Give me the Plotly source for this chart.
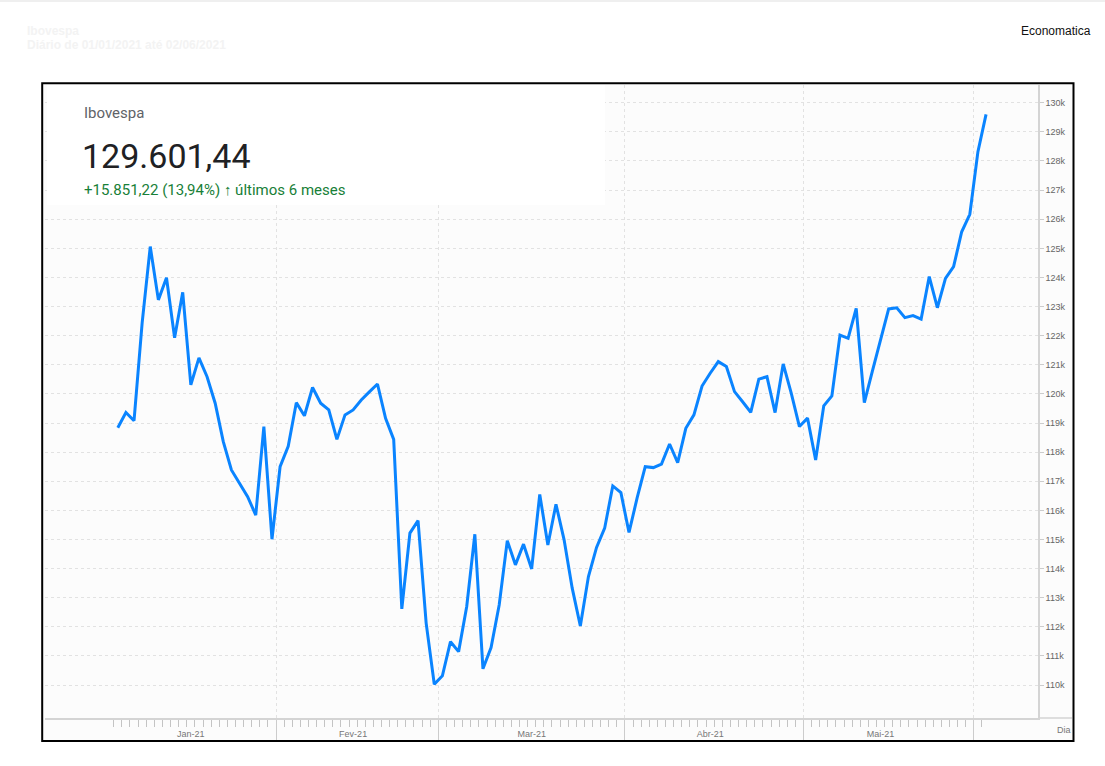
import pandas as pd
import plotly.graph_objects as go

# ---------------- data ----------------
start_date = "2021-01-04"
end_date = "2021-06-02"

ibovespa = [
    118840, 119360, 119080, 122440, 125060, 123230, 123990, 121930, 123490, 120310,
    121240, 120590, 119680, 118360, 117390, 116940, 116470, 115840, 118880, 115010,
    117500, 118200, 119700, 119250, 120220, 119680, 119450, 118440, 119280, 119450,
    119790, 120070, 120340, 119160, 118440, 112620, 115220, 115650, 112130, 110030,
    110320, 111490, 111150, 112700, 115180, 110560, 111290, 112750, 114960, 114130,
    114840, 113990, 116550, 114810, 116210, 114990, 113330, 112030, 113730, 114730,
    115390, 116840, 116610, 115240, 116430, 117500, 117470, 117590, 118280, 117640,
    118820, 119280, 120270, 120710, 121110, 120940, 120080, 119730, 119370, 120510,
    120590, 119360, 121030, 120020, 118880, 119170, 117730, 119590, 119930, 122020,
    121910, 122940, 119700, 120790, 121850, 122920, 122960, 122620, 122690, 122570,
    124030, 122960, 123970, 124370, 125570, 126170, 128320, 129601.44,
]

month_label_dates = ["2021-01-15", "2021-02-12", "2021-03-16", "2021-04-15", "2021-05-14"]
month_labels = ["Jan-21", "Fev-21", "Mar-21", "Abr-21", "Mai-21"]

y_tick_values = [110000, 111000, 112000, 113000, 114000, 115000, 116000, 117000,
                 118000, 119000, 120000, 121000, 122000, 123000, 124000, 125000,
                 126000, 127000, 128000, 129000, 130000]

title_name = "Ibovespa"
last_value_text = "129.601,44"
change_text = "+15.851,22 (13,94%) <b>↑</b> últimos 6 meses"
ghost_title = "Ibovespa"
ghost_subtitle = "Diário de 01/01/2021 até 02/06/2021"
source_text = "Economatica"
x_axis_unit = "Dia"

# ---------------- derived positions ----------------
dates = pd.bdate_range(start_date, end_date)
fmt = "%Y-%m-%d %H:%M"
date_str = [d.strftime("%Y-%m-%d") for d in dates]
half = pd.Timedelta(hours=12)
bday = pd.offsets.BDay(1)
day_bounds = [((d - bday) + half).strftime(fmt) for d in dates]
month_bounds = [
    (dates[i - 1] + half).strftime(fmt)
    for i in range(1, len(dates))
    if dates[i].month != dates[i - 1].month
]

W, H = 1105, 766
ML, MR, MT, MB = 45, 67, 85, 48
PW, PH = W - ML - MR, H - MT - MB


def px(x):
    return (x - ML) / PW


def py(y):
    return (H - MB - y) / PH


x_range = ["2020-12-22 00:40", "2021-06-10 09:40"]
y_range = [108870, 130610]
breaks = [dict(bounds=["sat", "mon"])]

fig = go.Figure()
fig.add_trace(go.Scatter(
    x=date_str, y=ibovespa, mode="lines",
    line=dict(color="#0a84ff", width=3),
    showlegend=False,
))
fig.add_trace(go.Scatter(
    x=date_str, y=ibovespa, mode="lines", xaxis="x2",
    line=dict(color="rgba(0,0,0,0)", width=0),
    hoverinfo="skip", showlegend=False,
))

grid_col = "#e2e2e2"
axis_col = "#d4d4d4"

fig.update_layout(
    width=W, height=H,
    margin=dict(l=ML, r=MR, t=MT, b=MB),
    paper_bgcolor="white",
    plot_bgcolor="#fcfcfc",
    font=dict(family="Arial, Liberation Sans, sans-serif", size=9, color="#666"),
    xaxis=dict(
        type="date", range=x_range, rangebreaks=breaks,
        tickmode="array", tickvals=month_bounds, showticklabels=False,
        ticks="outside", ticklen=20, tickcolor="#cccccc", tickwidth=1,
        showgrid=True, gridcolor=grid_col, griddash="3px,3px", gridwidth=1,
        showline=True, linecolor=axis_col, linewidth=1.5,
        zeroline=False,
        minor=dict(tickmode="array", tickvals=day_bounds, ticks="outside",
                   ticklen=7, tickcolor="#c4c4c4", tickwidth=1, showgrid=False),
    ),
    xaxis2=dict(
        type="date", range=x_range, rangebreaks=breaks,
        overlaying="x", anchor="y", side="bottom",
        tickmode="array", tickvals=month_label_dates, ticktext=month_labels,
        ticks="outside", ticklen=7, tickcolor="rgba(0,0,0,0)",
        showgrid=False, showline=False, zeroline=False,
        tickfont=dict(size=9, color="#777"),
    ),
    yaxis=dict(
        side="right", range=y_range,
        tickmode="array", tickvals=y_tick_values,
        tickformat="~s",
        ticks="outside", ticklen=4, tickcolor="#cccccc",
        showline=True, linecolor=axis_col, linewidth=1.5,
        showgrid=True, gridcolor=grid_col, griddash="3px,3px", gridwidth=1,
        zeroline=False,
        tickfont=dict(size=9, color="#666"),
    ),
    hovermode="x",
)

shapes = [
    # outer black frame
    dict(type="rect", xref="paper", yref="paper",
         x0=px(42.2), x1=px(1073.5), y0=py(741), y1=py(83.3),
         line=dict(color="black", width=2), fillcolor="#fcfcfc", layer="below"),
    # x axis line extension under the y labels
    dict(type="line", xref="paper", yref="paper",
         x0=1, x1=px(1072), y0=0, y1=0,
         line=dict(color=axis_col, width=1.5), layer="below"),
    # info box
    dict(type="rect", xref="paper", yref="paper",
         x0=px(47), x1=px(605), y0=py(205), y1=py(85),
         line=dict(width=0), fillcolor="white", layer="above"),
    # faint top line
    dict(type="line", xref="paper", yref="paper",
         x0=px(0), x1=px(W), y0=py(1), y1=py(1),
         line=dict(color="#efefef", width=2), layer="below"),
]
fig.update_layout(shapes=shapes)

ann = [
    dict(text=title_name, x=px(82), y=py(113), font=dict(family="Roboto", size=15, color="#5f6368")),
    dict(text=last_value_text, x=px(80), y=py(156), font=dict(family="Roboto", size=34, color="#202124")),
    dict(text=change_text, x=px(82), y=py(189.5), font=dict(family="Roboto", size=15, color="#188038")),
    dict(text="<b>" + ghost_title + "</b>", x=px(25), y=py(31), font=dict(family="Arial, Liberation Sans", size=12, color="#f3f3f3")),
    dict(text="<b>" + ghost_subtitle + "</b>", x=px(25), y=py(45), font=dict(family="Arial, Liberation Sans", size=12, color="#f3f3f3")),
    dict(text=source_text, x=px(1019), y=py(31), font=dict(family="Arial, Liberation Sans", size=12, color="#111")),
    dict(text=x_axis_unit, x=px(1055), y=py(730), font=dict(family="Arial, Liberation Sans", size=9, color="#777")),
]
for a in ann:
    a.update(xref="paper", yref="paper", xanchor="left", yanchor="middle", showarrow=False)
fig.update_layout(annotations=ann)

fig.write_html(
    "out.html",
    config={"displayModeBar": False},
    post_script="document.body.style.margin='0';document.body.style.overflow='hidden';",
)
